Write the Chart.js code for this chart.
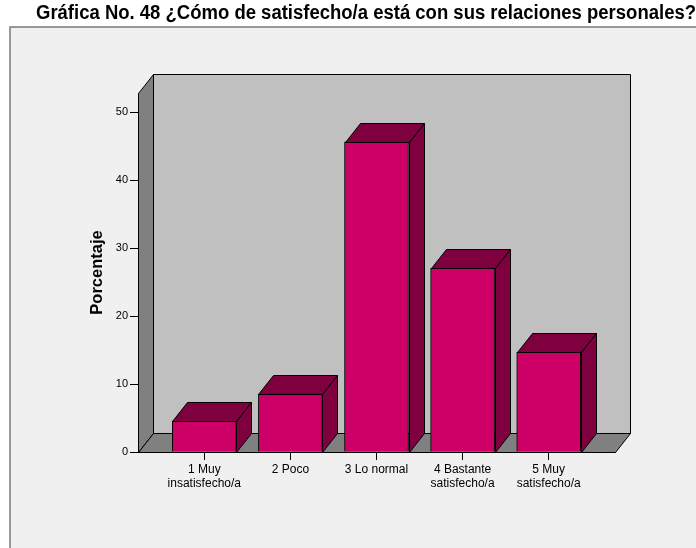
<!DOCTYPE html>
<html>
<head>
<meta charset="utf-8">
<script src="https://cdn.jsdelivr.net/npm/chart.js@4"></script>
<style>
  html, body { margin: 0; padding: 0; background: #fff; }
  #wrap { width: 696px; height: 548px; position: relative; }
</style>
</head>
<body>
<div id="wrap"><canvas id="grafica48"></canvas></div>
<script>
const categorias = [
    ["1 Muy", "insatisfecho/a"],
    "2 Poco",
    "3 Lo normal",
    ["4 Bastante", "satisfecho/a"],
    ["5 Muy", "satisfecho/a"],
];
const porcentajes = [4.5, 8.5, 45.6, 27.0, 14.7];
const ticksY = [0, 10, 20, 30, 40, 50];

const titulo = "Gráfica No. 48 ¿Cómo de satisfecho/a está con sus relaciones personales?";

// profundidad del efecto 3D (px)
const DX = 15;
const DY = 19;

const px = (v) => Math.round(v) + 0.5;

function poligono(ctx, pts, relleno) {
    ctx.beginPath();
    ctx.moveTo(px(pts[0][0]), px(pts[0][1]));
    for (let i = 1; i < pts.length; i++) {
        ctx.lineTo(px(pts[i][0]), px(pts[i][1]));
    }
    ctx.closePath();
    ctx.fillStyle = relleno;
    ctx.fill();
    ctx.strokeStyle = "#000";
    ctx.lineWidth = 1;
    ctx.stroke();
}

// fondo gris del panel con su borde
const fondoPanel = {
    id: "fondoPanel",
    beforeDraw(chart) {
        const ctx = chart.ctx;
        ctx.save();
        ctx.fillStyle = "#fff";
        ctx.fillRect(0, 0, chart.width, chart.height);
        ctx.fillStyle = "#f0f0f0";
        ctx.fillRect(10, 27, chart.width, chart.height);
        ctx.strokeStyle = "#7a7a7a";
        ctx.lineWidth = 1.5;
        ctx.beginPath();
        ctx.moveTo(10, chart.height + 2);
        ctx.lineTo(10, 27);
        ctx.lineTo(chart.width + 2, 27);
        ctx.stroke();
        ctx.restore();
    },
};

// paredes, suelo y caras superiores/laterales de las barras
const caja3d = {
    id: "caja3d",
    beforeDatasetsDraw(chart) {
        const { left: L, right: R, top: T, bottom: B } = chart.chartArea;
        const ctx = chart.ctx;
        ctx.save();
        poligono(ctx, [[L + DX, T - DY], [R + DX, T - DY], [R + DX, B - DY], [L + DX, B - DY]], "#c0c0c0");
        poligono(ctx, [[L, B], [L, T], [L + DX, T - DY], [L + DX, B - DY]], "#808080");
        poligono(ctx, [[L, B], [R, B], [R + DX, B - DY], [L + DX, B - DY]], "#808080");
        ctx.restore();
    },
    afterDatasetsDraw(chart) {
        const ctx = chart.ctx;
        ctx.save();
        chart.getDatasetMeta(0).data.forEach((bar) => {
            const { x, y, base, width } = bar.getProps(["x", "y", "base", "width"], true);
            const l = x - width / 2;
            const r = x + width / 2;
            poligono(ctx, [[l, y], [l + DX, y - DY], [r + DX, y - DY], [r, y]], "#7f003f");
            poligono(ctx, [[r, y], [r + DX, y - DY], [r + DX, base - DY], [r, base]], "#7f003f");
        });
        ctx.restore();
    },
};

Chart.defaults.font.family = "'Liberation Sans', Arial, sans-serif";
Chart.defaults.color = "#000";

new Chart(document.getElementById("grafica48"), {
    type: "bar",
    data: {
        datasets: [
            {
                label: "Porcentaje",
                data: porcentajes.map((v, i) => ({ x: i, y: v })),
                backgroundColor: "#cc0066",
                borderColor: "#000",
                borderWidth: 1,
                barThickness: 64,
            },
        ],
    },
    options: {
        responsive: true,
        maintainAspectRatio: false,
        animation: false,
        layout: {
            padding: { left: 36, right: 0, top: 0, bottom: 36 },
        },
        plugins: {
            legend: { display: false },
            tooltip: { enabled: false },
            title: {
                display: true,
                text: titulo,
                align: "start",
                color: "#000",
                font: { size: 20, weight: "bold" },
                padding: { top: 1, bottom: 68 },
            },
        },
        scales: {
            x: {
                type: "linear",
                offset: false,
                min: -0.77,
                max: 4.77,
                afterBuildTicks: (s) => {
                    s.ticks = categorias.map((_, i) => ({ value: i }));
                },
                afterFit: (s) => {
                    s.height = 60;
                },
                border: { color: "#000" },
                grid: {
                    offset: false,
                    drawOnChartArea: false,
                    color: "#000",
                    tickLength: 8,
                },
                ticks: {
                    autoSkip: false,
                    maxRotation: 0,
                    padding: 2,
                    font: { size: 12 },
                    color: "#000",
                    callback: (v) => categorias[v],
                },
            },
            y: {
                min: 0,
                max: 52.8,
                afterBuildTicks: (s) => {
                    s.ticks = ticksY.map((v) => ({ value: v }));
                },
                afterFit: (s) => {
                    s.width = 102;
                },
                border: { color: "#000" },
                grid: {
                    drawOnChartArea: false,
                    color: "#000",
                    tickLength: 8,
                },
                ticks: {
                    padding: 2,
                    font: { size: 11 },
                    color: "#000",
                },
                title: {
                    display: true,
                    text: "Porcentaje",
                    color: "#000",
                    font: { size: 16.5, weight: "bold" },
                    padding: { top: 51.1 },
                },
            },
            // margen derecho vacío, deja sitio a la profundidad de la caja
            margenDer: {
                type: "linear",
                position: "right",
                afterFit: (s) => {
                    s.width = 81;
                },
                border: { display: false },
                grid: { display: false },
                ticks: { display: false },
            },
        },
    },
    plugins: [fondoPanel, caja3d],
});
</script>
</body>
</html>
